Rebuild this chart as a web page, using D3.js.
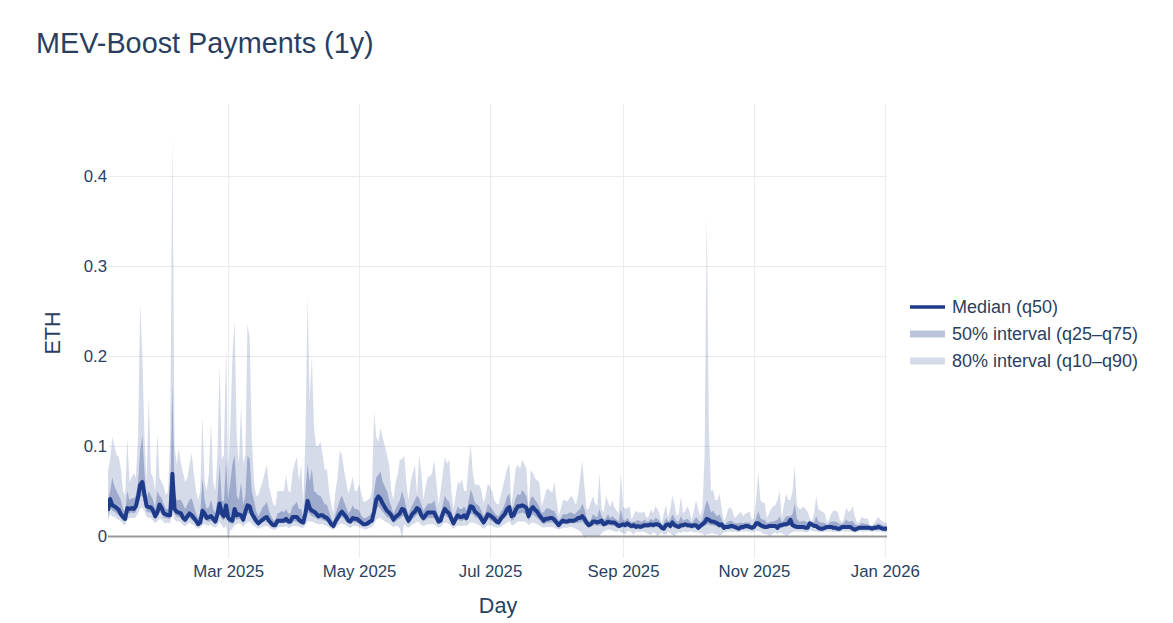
<!DOCTYPE html>
<html><head><meta charset="utf-8">
<script src="https://cdn.jsdelivr.net/npm/d3@7"></script>
<style>html,body{margin:0;padding:0;background:#fff}svg{display:block}text{font-family:"Liberation Sans",Arial,sans-serif;fill:#2a3f5f}</style>
</head><body><div id="chart"></div>
<script>
const startDate = "2025-01-04";
const endDate = "2026-01-02";
const tickDates = ["2025-03-01","2025-05-01","2025-07-01","2025-09-01","2025-11-01","2026-01-01"];
const tickLabels = ["Mar 2025","May 2025","Jul 2025","Sep 2025","Nov 2025","Jan 2026"];
const yTicks = [0,0.1,0.2,0.3,0.4];
const seriesNames = ["Median (q50)","50% interval (q25–q75)","80% interval (q10–q90)"];
const q90 = [
.072,.085,.11,.10,.09,.088,.075,.05,.045,.11,.06,.065,.07,.065,.11,.258,.20,.11,.06,.155,.07,.065,.05,.115,.065,.06,.055,.045,.05,.11,
.445,.10,.08,.097,.08,.07,.06,.065,.08,.092,.07,.05,.04,.05,.133,.06,.05,.07,.127,.06,.05,.09,.19,.085,.09,.21,.07,.12,.20,.24,
.11,.08,.144,.08,.09,.235,.22,.11,.062,.045,.045,.053,.06,.07,.079,.055,.045,.035,.033,.05,.05,.05,.05,.068,.05,.048,.07,.08,.088,.06,
.079,.035,.11,.265,.15,.20,.12,.10,.10,.105,.09,.073,.075,.05,.035,.025,.05,.065,.095,.09,.073,.06,.047,.055,.066,.05,.05,.058,.048,.038,
.038,.04,.042,.05,.138,.11,.105,.12,.11,.10,.09,.08,.05,.04,.06,.068,.085,.085,.09,.06,.04,.06,.07,.079,.045,.09,.07,.04,.055,.066,
.066,.07,.084,.06,.034,.05,.07,.088,.08,.085,.05,.029,.045,.06,.058,.063,.05,.05,.08,.101,.07,.057,.057,.057,.05,.036,.045,.058,.055,.05,
.04,.036,.035,.045,.055,.065,.075,.081,.033,.055,.075,.079,.074,.085,.08,.075,.03,.073,.07,.064,.062,.06,.033,.04,.05,.053,.05,.048,.06,.04,
.023,.03,.04,.04,.038,.042,.045,.04,.034,.045,.065,.083,.055,.03,.03,.038,.044,.036,.033,.07,.03,.026,.044,.038,.032,.04,.032,.028,.025,.071,
.033,.03,.031,.033,.018,.024,.028,.026,.026,.026,.027,.02,.022,.03,.025,.033,.03,.025,.014,.025,.034,.02,.03,.045,.035,.022,.025,.044,.025,.028,
.033,.028,.018,.028,.04,.03,.022,.03,.09,.355,.12,.05,.051,.04,.04,.047,.03,.016,.022,.03,.032,.028,.02,.022,.025,.027,.022,.025,.026,.027,
.018,.02,.04,.07,.04,.037,.037,.02,.025,.03,.033,.034,.04,.05,.02,.035,.047,.04,.04,.05,.078,.035,.03,.03,.033,.03,.027,.02,.016,.025,
.044,.03,.028,.027,.025,.015,.018,.025,.028,.028,.027,.018,.015,.02,.031,.027,.028,.033,.022,.015,.015,.021,.02,.019,.02,.012,.012,.014,.018,.021,.018,.016,.015,.014];
const q75 = [
.04,.05,.065,.055,.05,.045,.04,.03,.027,.05,.04,.042,.042,.045,.06,.095,.112,.07,.042,.05,.045,.04,.03,.05,.045,.042,.035,.03,.03,.035,
.17,.05,.04,.04,.04,.035,.03,.035,.04,.042,.033,.025,.02,.024,.065,.04,.03,.032,.04,.03,.025,.04,.08,.04,.038,.085,.04,.06,.08,.09,
.045,.04,.06,.035,.045,.09,.085,.05,.04,.028,.022,.026,.032,.034,.038,.028,.022,.018,.017,.025,.026,.028,.026,.03,.025,.025,.033,.035,.038,.03,
.03,.02,.05,.08,.06,.075,.05,.048,.045,.045,.04,.035,.035,.027,.02,.015,.024,.032,.04,.045,.038,.032,.025,.028,.034,.03,.03,.028,.023,.02,
.02,.021,.023,.026,.05,.065,.068,.072,.06,.055,.05,.04,.033,.025,.03,.035,.04,.05,.042,.032,.024,.03,.035,.04,.045,.042,.035,.028,.032,.036,
.036,.036,.04,.03,.022,.024,.035,.045,.04,.038,.028,.02,.026,.033,.03,.03,.033,.028,.038,.052,.045,.037,.035,.033,.028,.022,.026,.036,.033,.03,
.026,.023,.022,.027,.03,.036,.044,.047,.03,.033,.042,.047,.045,.051,.048,.044,.03,.042,.044,.04,.037,.032,.026,.026,.03,.031,.03,.028,.028,.022,
.017,.02,.024,.024,.024,.026,.026,.024,.025,.028,.03,.036,.03,.02,.016,.018,.024,.022,.021,.03,.022,.018,.02,.024,.02,.022,.02,.018,.016,.03,
.018,.017,.02,.017,.015,.016,.016,.018,.016,.016,.018,.016,.016,.019,.017,.02,.019,.017,.012,.014,.02,.016,.018,.024,.02,.016,.016,.022,.017,.018,
.019,.017,.014,.017,.021,.018,.015,.018,.03,.04,.034,.026,.028,.024,.022,.024,.018,.012,.014,.016,.017,.016,.014,.014,.014,.015,.014,.015,.015,.015,
.012,.013,.019,.028,.02,.018,.018,.014,.015,.016,.016,.017,.018,.022,.015,.018,.022,.022,.022,.024,.036,.019,.016,.016,.017,.016,.015,.016,.014,.015,
.022,.016,.015,.015,.014,.012,.014,.016,.016,.016,.015,.013,.013,.015,.018,.016,.016,.017,.013,.012,.012,.014,.014,.013,.013,.011,.011,.012,.013,.014,.013,.012,.011,.011];
const q50 = [
.028,.041,.034,.033,.031,.029,.024,.021,.019,.031,.03,.031,.03,.033,.043,.057,.06,.046,.033,.032,.032,.028,.022,.026,.035,.031,.025,.024,.023,.023,
.069,.03,.027,.026,.025,.02,.018,.022,.025,.023,.02,.017,.013,.015,.028,.025,.02,.021,.022,.019,.016,.024,.036,.025,.022,.034,.02,.018,.017,.03,
.023,.024,.023,.018,.027,.034,.033,.025,.021,.017,.014,.016,.018,.02,.021,.017,.014,.012,.012,.017,.017,.017,.017,.019,.016,.016,.021,.021,.021,.018,
.016,.015,.025,.039,.031,.028,.027,.025,.022,.023,.023,.021,.02,.017,.013,.011,.016,.02,.024,.027,.024,.021,.017,.016,.02,.019,.019,.017,.015,.013,
.013,.014,.016,.017,.027,.04,.044,.041,.036,.032,.028,.026,.023,.018,.021,.023,.025,.03,.029,.022,.017,.021,.025,.027,.031,.029,.023,.02,.023,.026,
.026,.026,.026,.021,.016,.017,.025,.03,.027,.025,.019,.014,.019,.023,.021,.021,.023,.02,.026,.033,.032,.027,.025,.023,.019,.015,.019,.024,.023,.021,
.019,.016,.015,.019,.022,.025,.03,.032,.022,.023,.029,.033,.033,.034,.033,.031,.022,.029,.032,.029,.027,.023,.02,.017,.019,.019,.02,.02,.018,.015,
.012,.015,.017,.016,.016,.017,.017,.017,.018,.02,.02,.022,.019,.015,.012,.013,.016,.016,.015,.016,.017,.013,.014,.016,.015,.015,.015,.013,.011,.012,
.013,.012,.014,.012,.011,.012,.01,.011,.01,.011,.012,.012,.012,.013,.012,.013,.013,.012,.009,.008,.012,.013,.011,.015,.012,.011,.01,.012,.012,.013,
.012,.012,.011,.012,.012,.009,.011,.013,.015,.019,.018,.016,.016,.015,.014,.012,.013,.009,.01,.01,.011,.011,.01,.009,.008,.01,.01,.011,.011,.01,
.009,.01,.014,.014,.012,.011,.01,.01,.011,.011,.011,.011,.009,.012,.012,.013,.013,.014,.018,.012,.011,.01,.01,.01,.01,.009,.009,.014,.013,.011,
.011,.009,.008,.008,.009,.01,.01,.01,.009,.009,.008,.008,.01,.01,.01,.01,.01,.008,.007,.008,.009,.009,.009,.009,.009,.009,.008,.009,.009,.01,.009,.008,.008,.008];
const q25 = [
.022,.032,.028,.027,.025,.023,.02,.017,.016,.025,.025,.026,.025,.027,.034,.043,.045,.036,.027,.026,.026,.023,.018,.021,.027,.025,.02,.02,.019,.019,
.045,.024,.022,.021,.02,.016,.015,.018,.02,.018,.016,.014,.011,.012,.02,.019,.016,.016,.017,.015,.013,.018,.025,.019,.017,.024,.015,.014,.013,.02,
.018,.019,.018,.014,.02,.025,.025,.019,.016,.014,.012,.013,.015,.016,.016,.014,.012,.01,.01,.013,.014,.014,.014,.015,.013,.013,.016,.016,.016,.014,
.013,.012,.019,.027,.024,.022,.021,.02,.018,.019,.018,.017,.016,.014,.011,.009,.012,.016,.019,.021,.019,.016,.014,.013,.016,.015,.015,.014,.012,.011,
.011,.011,.013,.014,.02,.03,.033,.03,.027,.024,.021,.02,.018,.014,.016,.018,.019,.022,.022,.017,.013,.016,.019,.021,.024,.023,.018,.016,.018,.02,
.02,.02,.02,.017,.013,.014,.02,.023,.021,.019,.015,.012,.015,.018,.017,.017,.018,.016,.02,.025,.024,.021,.02,.018,.015,.012,.015,.019,.018,.016,
.015,.013,.012,.015,.018,.02,.023,.024,.017,.018,.022,.025,.025,.026,.025,.023,.017,.022,.024,.022,.02,.018,.015,.013,.014,.015,.015,.015,.014,.012,
.01,.012,.014,.013,.013,.014,.014,.014,.014,.015,.015,.016,.013,.011,.009,.01,.012,.012,.011,.012,.012,.01,.011,.012,.012,.011,.011,.009,.009,.009,
.01,.009,.011,.009,.008,.009,.008,.009,.008,.008,.009,.009,.009,.01,.009,.01,.01,.009,.007,.006,.009,.01,.008,.011,.009,.008,.008,.009,.009,.01,
.009,.009,.008,.009,.009,.007,.008,.01,.011,.013,.013,.012,.012,.011,.01,.009,.009,.007,.008,.008,.008,.008,.008,.007,.006,.007,.007,.008,.008,.008,
.007,.008,.01,.011,.009,.008,.008,.008,.008,.009,.009,.009,.007,.009,.009,.01,.01,.011,.012,.009,.008,.008,.008,.008,.008,.007,.007,.01,.01,.009,
.009,.007,.006,.006,.007,.008,.008,.008,.007,.007,.006,.006,.008,.008,.008,.008,.008,.006,.005,.006,.007,.007,.007,.007,.007,.007,.006,.007,.007,.008,.007,.006,.006,.006];
const q10 = [
.017,.024,.022,.021,.019,.018,.016,.013,.012,.018,.02,.02,.02,.021,.025,.03,.032,.027,.021,.02,.02,.017,.014,.016,.019,.018,.015,.014,.015,.014,
.028,.018,.016,.016,.015,.012,.011,.013,.015,.013,.012,.009,.008,.009,.012,.013,.012,.012,.012,.01,.009,.012,.015,.012,.008,.012,-.005,.006,.008,.012,
.013,.014,.013,.01,.013,.015,.016,.013,.011,.01,.008,.009,.01,.011,.011,.01,.008,.007,.007,.009,.01,.01,.01,.011,.009,.009,.011,.011,.011,.01,
.009,.009,.012,.016,.016,.016,.015,.014,.013,.013,.013,.012,.011,.01,.008,.007,.009,.011,.013,.014,.013,.012,.01,.009,.011,.011,.011,.01,.009,.008,
.007,.008,.009,.01,.013,.018,.02,.02,.018,.016,.015,.014,.012,.01,.011,.011,.008,-.003,.013,.011,.009,.011,.013,.014,.016,.015,.012,.011,.012,.013,
.013,.013,.013,.011,.009,.01,.013,.015,.014,.013,.01,.008,.01,.012,.011,.011,.012,.011,.013,.015,.015,.014,.013,.012,.01,.008,.01,.012,.012,.011,
.01,.009,.009,.01,.012,.013,.015,.016,.012,.012,.014,.016,.016,.016,.016,.015,.012,.014,.015,.014,.013,.012,.01,.009,.01,.01,.01,.01,.009,.008,
.007,.008,.009,.009,.009,.01,.01,.009,.008,.007,.005,.002,-.002,0,0,0,0,0,0,0,.003,.005,.006,.007,.007,.006,.005,.004,.006,.004,
.003,.001,.006,.005,.004,.001,.005,.005,.004,.005,.004,.003,.002,.001,.004,.003,0,.002,.004,.002,.001,.005,.003,.001,0,.003,.004,.003,.005,.004,
.004,.005,.005,.004,.004,.004,.003,.003,0,.002,.002,.003,.003,.002,.002,0,.002,.004,.004,.005,.005,.004,.005,.004,.004,.005,.005,.005,.005,.005,
.004,.004,.006,.005,.005,.003,.002,.002,0,.001,.003,.004,.002,.004,.003,.002,0,.001,.003,.004,.005,.005,.005,.005,.005,.004,.004,.006,.006,.005,
.005,.004,.004,.004,.005,.005,.005,.005,.004,.004,.004,.004,.005,.005,.005,.005,.005,.004,.004,.004,.005,.005,.005,.005,.005,.005,.005,.005,.005,.005,.005,.004,.004,.004];

const W = 1173, H = 623;
const plot = {l:108, r:887, t:104, b:558};
const navy = "#1e3a8a";
const parse = d3.utcParse("%Y-%m-%d");
const start = parse(startDate);
const dates = q50.map((_, i) => d3.utcDay.offset(start, i));
const x = d3.scaleUtc().domain([start, parse(endDate)]).range([plot.l, plot.r]);
const y = d3.scaleLinear().domain([-0.0245, 0.48]).range([plot.b, plot.t]);

const svg = d3.select("#chart").append("svg").attr("width", W).attr("height", H).attr("viewBox", `0 0 ${W} ${H}`);
svg.append("defs").append("clipPath").attr("id","pc").append("rect")
  .attr("x",plot.l).attr("y",plot.t).attr("width",plot.r-plot.l).attr("height",plot.b-plot.t);

const gridColor = "#e9ebef";
const xAxis = svg.append("g").attr("transform",`translate(0,${plot.b})`)
  .call(d3.axisBottom(x).tickValues(tickDates.map(parse)).tickFormat((d,i)=>tickLabels[i]).tickSize(-(plot.b-plot.t)).tickPadding(6));
xAxis.select(".domain").remove();
xAxis.selectAll("line").attr("stroke",gridColor).attr("stroke-width",1);
xAxis.selectAll("text").attr("font-size",16.8).attr("dy","0").attr("y",19);

const yAxis = svg.append("g").attr("transform",`translate(${plot.l},0)`)
  .call(d3.axisLeft(y).tickValues(yTicks).tickFormat(d=>d===0?"0":d3.format(".1f")(d)).tickSize(-(plot.r-plot.l)).tickPadding(1));
yAxis.select(".domain").remove();
yAxis.selectAll("line").attr("stroke",gridColor).attr("stroke-width",1);
yAxis.selectAll("text").attr("font-size",16.8);
yAxis.selectAll(".tick").filter(d=>d===0).select("line").attr("stroke","#9a9a9a").attr("stroke-width",2);

const g = svg.append("g").attr("clip-path","url(#pc)");
const area = (lo,hi) => d3.area().x((_,i)=>x(dates[i])).y0((_,i)=>y(lo[i])).y1((_,i)=>y(hi[i]))(q50);
g.append("path").attr("d",area(q10,q90)).attr("fill",navy).attr("fill-opacity",0.18);
g.append("path").attr("d",area(q25,q75)).attr("fill",navy).attr("fill-opacity",0.3);
g.append("path").attr("d",d3.line().x((_,i)=>x(dates[i])).y(d=>y(d))(q50))
  .attr("fill","none").attr("stroke",navy).attr("stroke-width",4).attr("stroke-linejoin","round");

svg.append("text").attr("x",36).attr("y",53).attr("font-size",28.8).text("MEV-Boost Payments (1y)");
svg.append("text").attr("x",498).attr("y",613).attr("text-anchor","middle").attr("font-size",21.6).text("Day");
svg.append("text").attr("transform","translate(59.5,333) rotate(-90)").attr("text-anchor","middle").attr("font-size",21.6).text("ETH");

const legendStyles = [
  {w:3.6, o:1},
  {w:7.2, o:0.3},
  {w:7.2, o:0.18}
];
const leg = svg.append("g");
seriesNames.forEach((name,i)=>{
  const yy = 307 + i*27;
  leg.append("line").attr("x1",910).attr("x2",945).attr("y1",yy).attr("y2",yy)
    .attr("stroke",navy).attr("stroke-width",legendStyles[i].w).attr("stroke-opacity",legendStyles[i].o);
  leg.append("text").attr("x",952).attr("y",yy+6).attr("font-size",18).text(name);
});
</script></body></html>
